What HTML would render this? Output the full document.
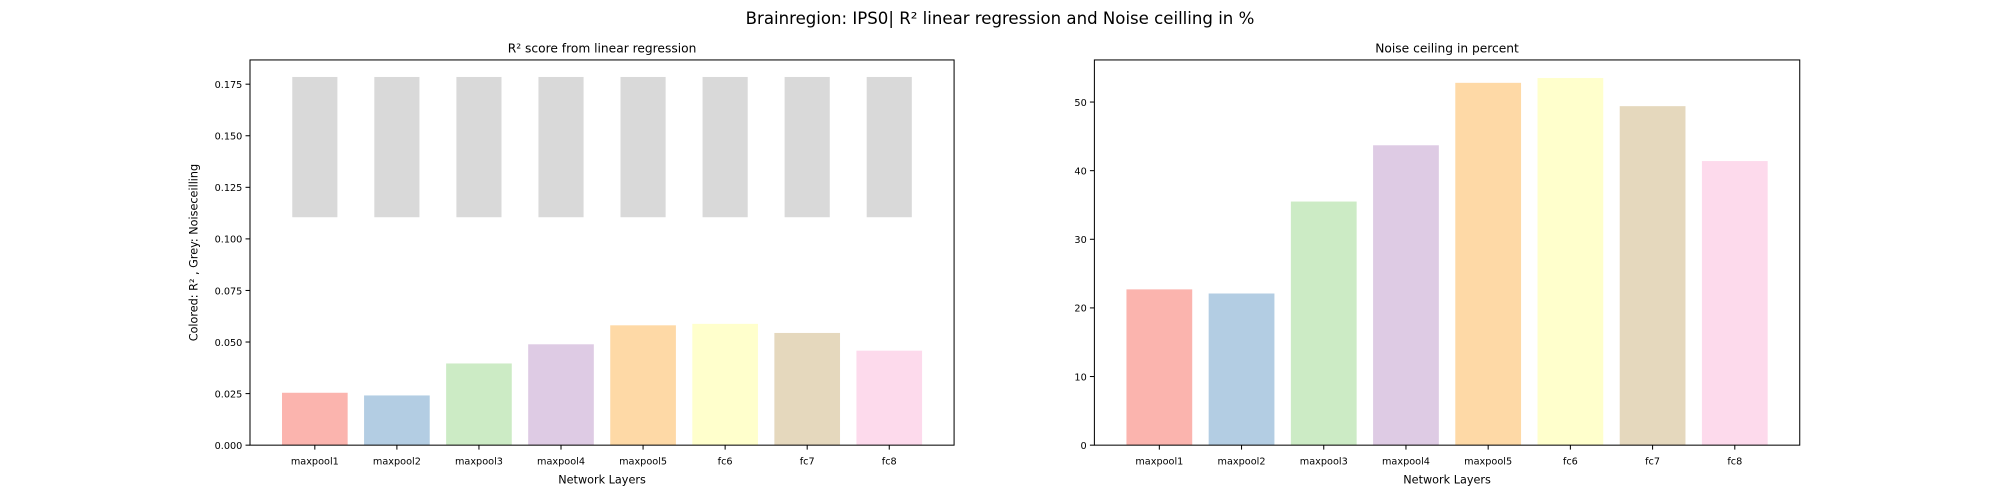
<!DOCTYPE html>
<html><head><meta charset="utf-8"><style>
html,body{margin:0;padding:0;background:#fff;overflow:hidden;}
svg{display:block;}
svg text{font-family:"DejaVu Sans","Liberation Sans",sans-serif;}
</style></head><body>
<svg id="c" width="2000" height="500" viewBox="0 0 1568 392" preserveAspectRatio="none" xmlns="http://www.w3.org/2000/svg">
<rect width="1568" height="392" fill="#fff"/>
<text x="784" y="19" font-size="13" text-anchor="middle">Brainregion: IPS0| R² linear regression and Noise ceilling in %</text>
</svg>
<script>
const categories=["maxpool1","maxpool2","maxpool3","maxpool4","maxpool5","fc6","fc7","fc8"];
const r2Values=[0.0254,0.0241,0.0396,0.0489,0.0581,0.0588,0.0544,0.0458];
const greyBottom=[0.1105,0.1105,0.1105,0.1105,0.1105,0.1105,0.1105,0.1105];
const greyTop=[0.1785,0.1785,0.1785,0.1785,0.1785,0.1785,0.1785,0.1785];
const noiseValues=[22.7,22.1,35.5,43.7,52.8,53.5,49.4,41.4];
const leftTicks=[0,0.025,0.05,0.075,0.1,0.125,0.15,0.175];
const rightTicks=[0,10,20,30,40,50];
const colors=["#fbb4ae","#b3cde3","#ccebc5","#decbe4","#fed9a6","#ffffcc","#e5d8bd","#fddaec"];
const svg=document.getElementById('c');
const NS="http://www.w3.org/2000/svg";
function mk(tag,attrs,parent){const e=document.createElementNS(NS,tag);for(const k in attrs)e.setAttribute(k,attrs[k]);(parent||svg).appendChild(e);return e;}
function panel(x0,x1,y0,y1,ymax,ticks,fmt,title,prefix){
  const g=mk('g',{});
  
  
  const n=categories.length;
  const pad=0.79;
  const xs=i=>x0+(x1-x0)*(i+pad)/(n-1+2*pad);
  const step=(x1-x0)/(n-1+2*pad);
  const ys=v=>y1-(y1-y0)*v/ymax;
  return {g,xs,ys,step,fin:()=>{
    const fr=mk('rect',{x:x0,y:y0,width:x1-x0,height:y1-y0,fill:'none',stroke:'#000','stroke-width':0.8},g);
    
    
    ticks.forEach(t=>{const y=ys(t);
      mk('line',{x1:x0-3.5,x2:x0,y1:y,y2:y,stroke:'#000','stroke-width':0.8},g);
      const tx=mk('text',{x:x0-6,y:y+3,'font-size':7.6,'text-anchor':'end'},g);tx.textContent=fmt(t);
      
      });
    categories.forEach((c,i)=>{const x=xs(i);
      mk('line',{x1:x,x2:x,y1:y1,y2:y1+3.5,stroke:'#000','stroke-width':0.8},g);
      const tx=mk('text',{x:x,y:y1+15,'font-size':7.6,'text-anchor':'middle'},g);tx.textContent=c;
      
      });
    const tt=mk('text',{x:(x0+x1)/2,y:y0-6,'font-size':9.6,'text-anchor':'middle'},g);tt.textContent=title;
    
    
    const xl=mk('text',{x:(x0+x1)/2,y:y1+30,'font-size':8.8,'text-anchor':'middle'},g);xl.textContent="Network Layers";
    
    
  }};
}
const L=panel(196,748,47,349,0.175*(349-47)/(349-66),leftTicks,v=>v.toFixed(3),"R² score from linear regression","left");
categories.forEach((c,i)=>{
  const x=L.xs(i),w=L.step*0.55;
  const r=mk('rect',{x:x-w/2,y:L.ys(greyTop[i]),width:w,height:L.ys(greyBottom[i])-L.ys(greyTop[i]),fill:'#d9d9d9'},L.g);
  
  
  const w2=L.step*0.8;
  const b=mk('rect',{x:x-w2/2,y:L.ys(r2Values[i]),width:w2,height:L.ys(0)-L.ys(r2Values[i]),fill:colors[i]},L.g);
  
  
});
L.fin();
const yl=mk('text',{x:0,y:0,'font-size':8.8,'text-anchor':'middle',transform:'translate(155,198) rotate(-90)'});
yl.textContent="Colored: R² , Grey: Noiseceilling";


const R=panel(858,1411,47,349,50*(349-47)/(349-80),rightTicks,v=>String(v),"Noise ceiling in percent","right");
categories.forEach((c,i)=>{
  const x=R.xs(i),w=R.step*0.8;
  const b=mk('rect',{x:x-w/2,y:R.ys(noiseValues[i]),width:w,height:R.ys(0)-R.ys(noiseValues[i]),fill:colors[i]},R.g);
  
  
});
R.fin();
</script>
</body></html>
